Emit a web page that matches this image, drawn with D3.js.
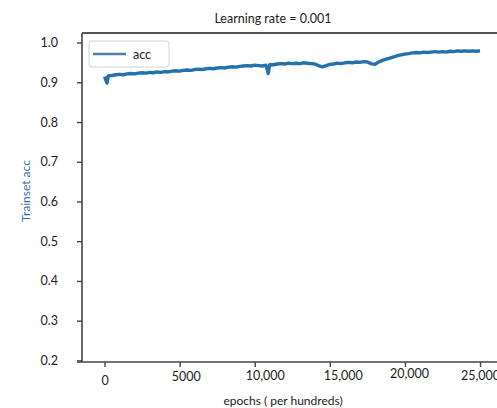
<!DOCTYPE html>
<html>
<head>
<meta charset="utf-8">
<script src="https://cdn.jsdelivr.net/npm/d3@7"></script>
<style>
  html, body { margin: 0; padding: 0; background: #fff; }
  svg { display: block; font-family: Lato, "Open Sans", sans-serif; }
</style>
</head>
<body>
<svg id="chart" width="497" height="408"></svg>
<script>
// Training accuracy sampled every 250 epochs (hundreds)
const epochs = d3.range(0, 25001, 250);
const acc = [
  0.914, 0.916, 0.917, 0.919, 0.920, 0.919, 0.921, 0.922, 0.921, 0.923,
  0.924, 0.923, 0.925, 0.924, 0.926, 0.925, 0.927, 0.926, 0.928, 0.929,
  0.928, 0.930, 0.931, 0.930, 0.932, 0.933, 0.932, 0.934, 0.935, 0.934,
  0.936, 0.937, 0.936, 0.938, 0.939, 0.938, 0.940, 0.941, 0.942, 0.941,
  0.943, 0.942, 0.941, 0.943, 0.944, 0.944, 0.946, 0.947, 0.946, 0.948,
  0.947, 0.948, 0.947, 0.949, 0.948, 0.947, 0.946, 0.942, 0.939, 0.942,
  0.945, 0.946, 0.948, 0.947, 0.949, 0.950, 0.949, 0.951, 0.950, 0.952,
  0.951, 0.947, 0.945, 0.951, 0.955, 0.958, 0.961, 0.964, 0.967, 0.969,
  0.971, 0.972, 0.974, 0.975, 0.974, 0.976, 0.975, 0.976, 0.977, 0.976,
  0.977, 0.976, 0.978, 0.977, 0.979, 0.978, 0.979, 0.978, 0.979, 0.978,
  0.979
];
// Short single-sample drops between the regular samples
const spikeEpochs = [167, 10900];
const spikeAcc = [0.898, 0.922];

const yTicks = [0.2, 0.3, 0.4, 0.5, 0.6, 0.7, 0.8, 0.9, 1.0];
const xTicks = [0, 5000, 10000, 15000, 20000, 25000];
const xTickLabels = ["0", "5000", "10,000", "15,000", "20,000", "25,000"];
const seriesName = "acc";

const series = epochs.map((e, i) => ({ e, v: acc[i] }))
  .concat(spikeEpochs.map((e, i) => ({ e, v: spikeAcc[i] })))
  .sort((a, b) => a.e - b.e);

const svg = d3.select("#chart");
const plotL = 82, plotR = 500, plotT = 33, plotB = 362;
const lineColor = "#2471ab";
const font = "Lato, 'Open Sans', sans-serif";

const x = d3.scaleLinear().domain([-1500, 26330]).range([plotL, plotR]);
const y = d3.scaleLinear().domain([0.196, 1.024]).range([plotB, plotT]);

// Title
svg.append("text")
  .attr("x", 273).attr("y", 23)
  .attr("text-anchor", "middle")
  .attr("font-size", 12.5).attr("fill", "#222")
  .text("Learning rate = 0.001");

// Top frame line
svg.append("line")
  .attr("x1", plotL).attr("x2", plotR)
  .attr("y1", plotT).attr("y2", plotT)
  .attr("stroke", "#555").attr("stroke-width", 2.2);

// Y axis
const yAxis = svg.append("g")
  .attr("transform", `translate(${plotL},0)`)
  .call(d3.axisLeft(y).tickValues(yTicks).tickFormat(d3.format(".1f")).tickSize(5).tickPadding(19));
yAxis.select(".domain").attr("stroke", "#444").attr("stroke-width", 1.6)
  .attr("d", `M0,${plotT}V${plotB}`);
yAxis.selectAll(".tick line").attr("stroke", "#444").attr("stroke-width", 1.4);
yAxis.selectAll(".tick text").attr("font-size", 12.5).attr("fill", "#222")
  .attr("font-family", font);

// X axis
const labelNudge = [[0, 4], [6, 0], [10, -1], [13, -1], [4, -3], [0, -1]];
const xAxis = svg.append("g")
  .attr("transform", `translate(0,${plotB})`)
  .call(d3.axisBottom(x).tickValues(xTicks).tickFormat((d, i) => xTickLabels[i]).tickSize(5).tickPadding(5));
xAxis.select(".domain").attr("stroke", "#444").attr("stroke-width", 1.6)
  .attr("d", `M${plotL - 5},0H${plotR}`);
xAxis.selectAll(".tick line").attr("stroke", "#444").attr("stroke-width", 1.4);
xAxis.selectAll(".tick text").attr("font-size", 12.5).attr("fill", "#222")
  .attr("font-family", font)
  .attr("transform", (d, i) => `translate(${labelNudge[i][0]},${labelNudge[i][1]})`);

// Axis titles
svg.append("text")
  .attr("x", 283).attr("y", 405)
  .attr("text-anchor", "middle")
  .attr("font-size", 12).attr("fill", "#222")
  .text("epochs ( per hundreds)");
svg.append("text")
  .attr("transform", "translate(30,191) rotate(-90)")
  .attr("text-anchor", "middle")
  .attr("font-size", 12).attr("fill", "#3b6ea6")
  .text("Trainset acc");

// Accuracy curve
const line = d3.line().x(d => x(d.e)).y(d => y(d.v));
svg.append("path")
  .datum(series)
  .attr("d", line)
  .attr("fill", "none")
  .attr("stroke", lineColor)
  .attr("stroke-width", 3.4)
  .attr("stroke-linejoin", "round")
  .attr("stroke-linecap", "butt");

// Legend
const lg = svg.append("g");
lg.append("rect")
  .attr("x", 89).attr("y", 41).attr("width", 80).attr("height", 26)
  .attr("rx", 3).attr("fill", "#fff").attr("stroke", "#d4d4d4").attr("stroke-width", 1);
lg.append("line")
  .attr("x1", 93).attr("x2", 126).attr("y1", 54).attr("y2", 54)
  .attr("stroke", "#4a7fae").attr("stroke-width", 2.5);
lg.append("text")
  .attr("x", 133).attr("y", 59)
  .attr("font-size", 12.5).attr("fill", "#222")
  .text(seriesName);
</script>
</body>
</html>
